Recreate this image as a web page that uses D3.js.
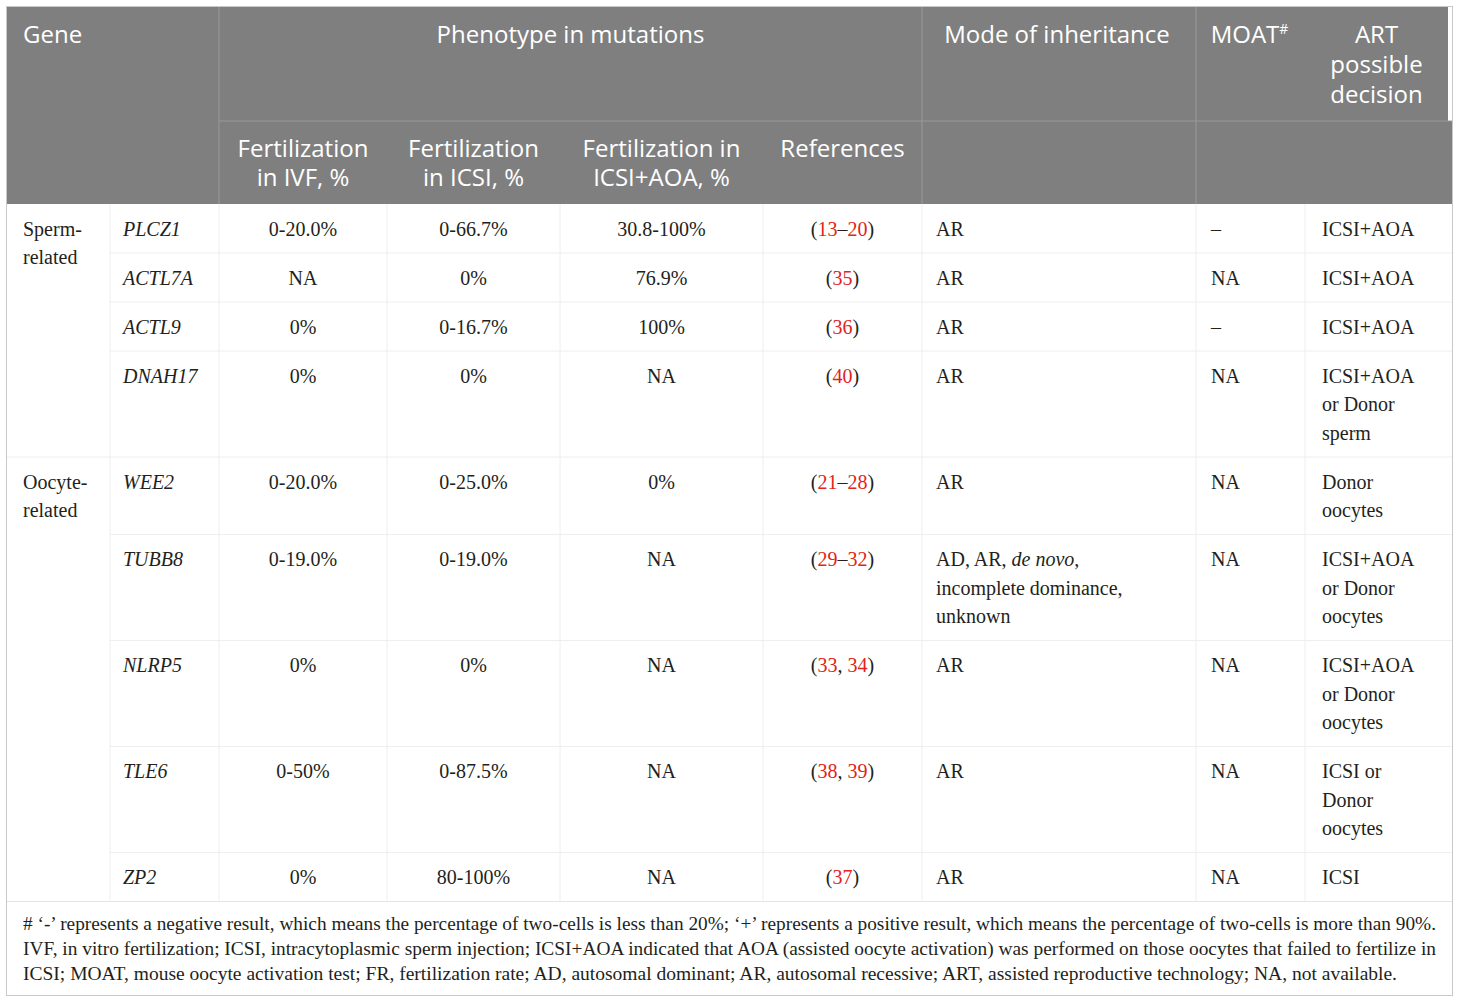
<!DOCTYPE html>
<html>
<head>
<meta charset="utf-8">
<script src="https://cdn.jsdelivr.net/npm/d3@7"></script>
<style>
  body { margin: 0; background: #fff; }
  svg { display: block; }
</style>
</head>
<body>
<div id="table"></div>
<script>
// table content
var genes = ["PLCZ1", "ACTL7A", "ACTL9", "DNAH17", "WEE2", "TUBB8", "NLRP5", "TLE6", "ZP2"];
var geneGroup = ["Sperm-|related", "Sperm-|related", "Sperm-|related", "Sperm-|related",
  "Oocyte-|related", "Oocyte-|related", "Oocyte-|related", "Oocyte-|related", "Oocyte-|related"];
var fertIVF = ["0-20.0%", "NA", "0%", "0%", "0-20.0%", "0-19.0%", "0%", "0-50%", "0%"];
var fertICSI = ["0-66.7%", "0%", "0-16.7%", "0%", "0-25.0%", "0-19.0%", "0%", "0-87.5%", "80-100%"];
var fertAOA = ["30.8-100%", "76.9%", "100%", "NA", "0%", "NA", "NA", "NA", "NA"];
var refs = ["13–20", "35", "36", "40", "21–28", "29–32", "33, 34", "38, 39", "37"];
var inheritance = ["AR", "AR", "AR", "AR", "AR", "AD, AR, _de novo_,|incomplete dominance,|unknown", "AR", "AR", "AR"];
var moat = ["–", "NA", "–", "NA", "NA", "NA", "NA", "NA", "NA"];
var artDecision = ["ICSI+AOA", "ICSI+AOA", "ICSI+AOA", "ICSI+AOA|or Donor|sperm", "Donor|oocytes",
  "ICSI+AOA|or Donor|oocytes", "ICSI+AOA|or Donor|oocytes", "ICSI or|Donor|oocytes", "ICSI"];

var headTop = ["Gene", "Phenotype in mutations", "Mode of inheritance", "MOAT#", "ART|possible|decision"];
var headSub = ["Fertilization|in IVF, %", "Fertilization|in ICSI, %", "Fertilization in|ICSI+AOA, %", "References"];

var footnote = [
  "# ‘-’ represents a negative result, which means the percentage of two-cells is less than 20%; ‘+’ represents a positive result, which means the percentage of two-cells is more than 90%.",
  "IVF, in vitro fertilization; ICSI, intracytoplasmic sperm injection; ICSI+AOA indicated that AOA (assisted oocyte activation) was performed on those oocytes that failed to fertilize in",
  "ICSI; MOAT, mouse oocyte activation test; FR, fertilization rate; AD, autosomal dominant; AR, autosomal recessive; ART, assisted reproductive technology; NA, not available."
];

var W = 1460, H = 1003;
var frameL = 7, frameR = 1452, frameT = 7, frameB = 995;
var headMid = 121, headBot = 204;
var lineStep = 28.5, rowPad = 24.5;
var grey = "#7f7f7f", ink = "#231f20", red = "#e2231a";
var serif = "'Liberation Serif', 'Times New Roman', serif";
var sans = "'Open Sans', 'Noto Sans', sans-serif";

var cols = ["group", "gene", "ivf", "icsi", "aoa", "ref", "mode", "moat", "art"];
var colEdges = [7, 110, 219, 387, 560, 763, 922, 1196, 1305, 1452];
var x0 = d3.scaleOrdinal(cols, colEdges.slice(0, -1));
var x1 = d3.scaleOrdinal(cols, colEdges.slice(1));
var xMid = function(c) { return (x0(c) + x1(c)) / 2; };

var svg = d3.select("#table").append("svg")
  .attr("width", W).attr("height", H);

// row layout from line counts
var rows = genes.map(function(g, i) {
  var n = d3.max([artDecision[i], inheritance[i]], function(s) { return s.split("|").length; });
  return { i: i, lines: n, h: 2 * rowPad + (n - 1) * lineStep };
});
var ends = d3.cumsum(rows, function(r) { return r.h; });
rows.forEach(function(r, k) { r.y = headBot + ends[k] - r.h; });
var tableBot = headBot + ends[ends.length - 1];

// header background
svg.append("rect").attr("x", frameL).attr("y", frameT)
  .attr("width", frameR - frameL).attr("height", headBot - frameT).attr("fill", grey);
svg.append("rect").attr("x", 1448).attr("y", frameT)
  .attr("width", frameR - 1448).attr("height", headMid - frameT).attr("fill", "#fff");

var hLine = "#9c9898";
svg.append("line").attr("x1", x0("ivf")).attr("x2", frameR)
  .attr("y1", headMid).attr("y2", headMid).attr("stroke", hLine);
[x0("ivf"), x0("mode"), x0("moat")].forEach(function(x) {
  svg.append("line").attr("x1", x).attr("x2", x)
    .attr("y1", frameT).attr("y2", headBot).attr("stroke", hLine);
});

function multiText(g, str, x, y, anchor, step, opts) {
  var t = g.append("text").attr("x", x).attr("y", y)
    .attr("text-anchor", anchor)
    .attr("font-family", opts.font).attr("font-size", opts.size)
    .attr("fill", opts.fill);
  str.split("|").forEach(function(line, k) {
    var first = true;
    line.split("_").forEach(function(part, j) {
      if (!part) return;
      var ts = t.append("tspan");
      if (first) { ts.attr("x", x).attr("dy", k === 0 ? "0.35em" : step); first = false; }
      if (j % 2 === 1) ts.attr("font-style", "italic");
      ts.text(part);
    });
  });
  return t;
}

var head = svg.append("g");
var hOpt = { font: sans, size: 24, fill: "#fff" };
multiText(head, headTop[0], 23, 35, "start", 30, hOpt);
multiText(head, headTop[1], (x0("ivf") + x1("ref")) / 2, 35, "middle", 30, hOpt);
multiText(head, headTop[2], xMid("mode") - 2, 35, "middle", 30, hOpt);
var mt = multiText(head, "MOAT", xMid("moat") - 1, 35, "middle", 30, hOpt);
mt.append("tspan").attr("font-size", 14).attr("dy", -9).text("#");
multiText(head, headTop[4], (x0("art") + 1448) / 2, 35, "middle", 30, hOpt);
["ivf", "icsi", "aoa", "ref"].forEach(function(c, k) {
  multiText(head, headSub[k], xMid(c), 149, "middle", 29, hOpt);
});

// body grid (faint)
var faint = "#eeeeee";
var grid = svg.append("g").attr("stroke", faint);
rows.forEach(function(r, k) {
  if (k === 0) return;
  var newGroup = geneGroup[k] !== geneGroup[k - 1];
  grid.append("line").attr("x1", newGroup ? frameL : x0("gene")).attr("x2", frameR)
    .attr("y1", r.y).attr("y2", r.y);
});
grid.append("line").attr("x1", frameL).attr("x2", frameR)
  .attr("y1", tableBot).attr("y2", tableBot).attr("stroke", "#e4e4e4");
colEdges.slice(1, -1).forEach(function(x) {
  grid.append("line").attr("x1", x).attr("x2", x)
    .attr("y1", headBot).attr("y2", tableBot);
});

// body text
var body = svg.append("g");
var bOpt = { font: serif, size: 20, fill: ink };
rows.forEach(function(r) {
  var i = r.i, cy = r.y + rowPad;
  if (i === 0 || geneGroup[i] !== geneGroup[i - 1]) {
    multiText(body, geneGroup[i], 23, cy, "start", lineStep, bOpt);
  }
  multiText(body, "_" + genes[i] + "_", x0("gene") + 13, cy, "start", lineStep, bOpt);
  multiText(body, fertIVF[i], xMid("ivf"), cy, "middle", lineStep, bOpt);
  multiText(body, fertICSI[i], xMid("icsi"), cy, "middle", lineStep, bOpt);
  multiText(body, fertAOA[i], xMid("aoa"), cy, "middle", lineStep, bOpt);
  var rt = body.append("text").attr("x", xMid("ref")).attr("y", cy).attr("dy", "0.35em")
    .attr("text-anchor", "middle").attr("font-family", serif).attr("font-size", 20).attr("fill", ink);
  rt.append("tspan").text("(");
  refs[i].split(/(\d+)/).forEach(function(p) {
    if (!p) return;
    var ts = rt.append("tspan").text(p);
    if (/\d/.test(p)) ts.attr("fill", red);
  });
  rt.append("tspan").text(")");
  multiText(body, inheritance[i], x0("mode") + 14, cy, "start", lineStep, bOpt);
  multiText(body, moat[i], x0("moat") + 15, cy, "start", lineStep, bOpt);
  multiText(body, artDecision[i], x0("art") + 17, cy, "start", lineStep, bOpt);
});

// footnote
var fnWidths = [1413, 1413, 1374];
footnote.forEach(function(line, k) {
  svg.append("text").attr("x", 23).attr("y", tableBot + 22 + k * 25).attr("dy", "0.35em")
    .attr("font-family", serif).attr("font-size", 18).attr("fill", ink)
    .attr("textLength", fnWidths[k]).attr("lengthAdjust", "spacingAndGlyphs")
    .text(line);
});

// outer frame
svg.append("rect").attr("x", frameL - 0.5).attr("y", frameT - 0.5)
  .attr("width", frameR - frameL + 1).attr("height", frameB - frameT + 1)
  .attr("fill", "none").attr("stroke", "#c8c8c8");
</script>
</body>
</html>
